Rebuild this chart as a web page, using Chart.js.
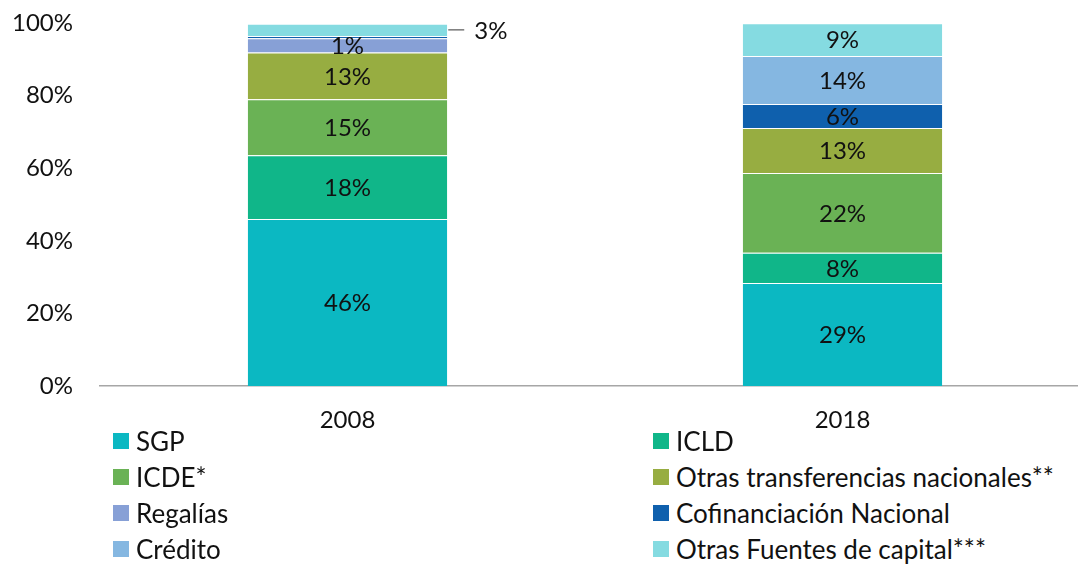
<!DOCTYPE html>
<html>
<head>
<meta charset="utf-8">
<script src="https://cdn.jsdelivr.net/npm/chart.js@4"></script>
<style>
  html, body { margin: 0; padding: 0; background: #fff; overflow: hidden; width: 1078px; height: 564px; }
  #wrap { position: absolute; left: 0; top: 0; width: 1090px; height: 440px; }
  #legend { position: absolute; left: 0; top: 0; font-family: Lato, sans-serif; font-size: 26px; color: #111; }
  .item { position: absolute; display: flex; align-items: center; white-space: nowrap; }
  .box { width: 16px; height: 16px; margin-right: 7px; }
</style>
</head>
<body>
<div id="wrap"><canvas id="chart"></canvas></div>
<div id="legend"></div>
<script>
const years = ["2008", "2018"];
const seriesNames = ["SGP", "ICLD", "ICDE*", "Otras transferencias nacionales**", "Regalías",
  "Cofinanciación Nacional", "Crédito", "Otras Fuentes de capital***"];
const seriesColors = ["#0bb8c2", "#10b689", "#6ab255", "#97ad41", "#87a0d6", "#0f60ad", "#85b7e1", "#85dbe1"];
const values2008 = [46, 17.6, 15.4, 12.9, 3.9, 0.6, 0, 3.4];
const values2018 = [28.4, 8.3, 22.0, 12.4, 0, 6.6, 13.2, 9.0];
const labels2008 = ["46%", "18%", "15%", "13%", "1%", "", "", "3%"];
const labels2018 = ["29%", "8%", "22%", "13%", "", "6%", "14%", "9%"];
const yTicks = [0, 20, 40, 60, 80, 100];

const FONT = "Lato, sans-serif";

// labels on the segments; the 2008 "Otras Fuentes" one goes outside with a leader line
const segmentLabels = {
  id: "segmentLabels",
  afterDatasetsDraw(chart) {
    const ctx = chart.ctx;
    ctx.save();
    ctx.font = "24px " + FONT;
    ctx.fillStyle = "#111";
    ctx.textBaseline = "middle";
    chart.data.datasets.forEach((ds, i) => {
      const meta = chart.getDatasetMeta(i);
      meta.data.forEach((bar, j) => {
        const txt = ds.segLabels[j];
        if (!txt) return;
        const cy = (bar.y + bar.base) / 2;
        if (j === 0 && i === 7) {
          const right = bar.x + bar.width / 2;
          ctx.strokeStyle = "#333";
          ctx.lineWidth = 1;
          ctx.beginPath();
          ctx.moveTo(right + 1, cy);
          ctx.lineTo(right + 17, cy);
          ctx.stroke();
          ctx.textAlign = "left";
          ctx.fillText(txt, right + 27, cy + 1);
        } else {
          ctx.textAlign = "center";
          ctx.fillText(txt, bar.x, cy + 1);
        }
      });
    });
    ctx.restore();
  }
};

const datasets = seriesNames.map((name, i) => ({
  label: name,
  data: [values2008[i], values2018[i]],
  segLabels: [labels2008[i], labels2018[i]],
  backgroundColor: seriesColors[i],
  borderColor: "rgba(255,255,255,0.3)",
  borderWidth: { top: 1 },
  borderSkipped: false,
  barPercentage: 0.806,
  categoryPercentage: 0.5
}));

new Chart(document.getElementById("chart"), {
  type: "bar",
  data: { labels: years, datasets: datasets },
  options: {
    responsive: true,
    maintainAspectRatio: false,
    animation: false,
    layout: { padding: { top: 23, right: 0, left: 0, bottom: 0 } },
    plugins: { legend: { display: false }, tooltip: { enabled: false } },
    scales: {
      x: {
        stacked: true,
        grid: { display: false, drawTicks: false },
        border: { display: true, color: "#a6a6a6", width: 1.5 },
        ticks: { color: "#111", font: { family: FONT, size: 24 }, padding: 20 },
        afterFit: (s) => { s.height = 54; }
      },
      y: {
        stacked: true,
        min: 0,
        max: 100,
        afterBuildTicks: (s) => { s.ticks = yTicks.map((v) => ({ value: v })); },
        grid: { display: false, drawTicks: false },
        border: { display: false },
        ticks: {
          color: "#111",
          font: { family: FONT, size: 24 },
          padding: 27,
          callback: (v) => v + "%"
        },
        afterFit: (s) => { s.width = 100; s.paddingTop = 0; s.paddingBottom = 0; }
      }
    }
  },
  plugins: [segmentLabels]
});

// two-column legend, filled from the series
const legend = document.getElementById("legend");
seriesNames.forEach((name, i) => {
  const item = document.createElement("div");
  item.className = "item";
  item.style.left = (i % 2 === 0 ? 113 : 653) + "px";
  item.style.top = (425 + Math.floor(i / 2) * 36) + "px";
  item.innerHTML = '<span class="box" style="background:' + seriesColors[i] + '"></span>' + name;
  legend.appendChild(item);
});
</script>
</body>
</html>
